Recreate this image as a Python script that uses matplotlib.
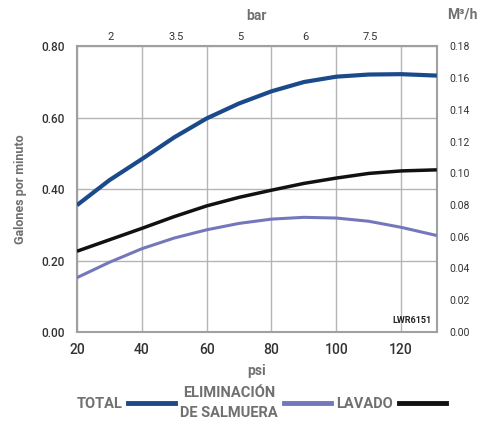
import matplotlib
matplotlib.use("Agg")
from matplotlib import pyplot as plt
from matplotlib.lines import Line2D

plt.rcParams['font.family'] = ['Roboto', 'DejaVu Sans']

# flow curves (psi -> galones por minuto)
psi = [20, 30, 40, 50, 60, 70, 80, 90, 100, 110, 120, 131]
total = [0.355, 0.425, 0.484, 0.545, 0.598, 0.640, 0.674, 0.700,
         0.715, 0.721, 0.722, 0.718]
eliminacion = [0.152, 0.195, 0.233, 0.263, 0.286, 0.304, 0.316, 0.321,
               0.319, 0.310, 0.293, 0.270]
lavado = [0.226, 0.258, 0.290, 0.323, 0.353, 0.377, 0.397, 0.416,
          0.431, 0.444, 0.451, 0.454]

psi_ticks = [20, 40, 60, 80, 100, 120]
bar_pos = [30.5, 50.5, 70.5, 90.5, 110.5]
bar_labels = ["2", "3.5", "5", "6", "7.5"]
gpm_ticks = [0.0, 0.2, 0.4, 0.6, 0.8]
m3h_ticks = [0.0, 0.02, 0.04, 0.06, 0.08, 0.10, 0.12, 0.14, 0.16, 0.18]

c_total = '#1b4a8b'
c_elim = '#7477bb'
c_lav = '#111111'
c_grid = '#b5b5b5'
c_label = '#707070'
c_tick = '#333333'

fig = plt.figure(figsize=(4.87, 4.25), dpi=100)
ax = fig.add_axes([0.158, 0.219, 0.739, 0.672])

ax.plot(psi, total, color=c_total, lw=3.0, solid_capstyle='butt', zorder=3)
ax.plot(psi, lavado, color=c_lav, lw=2.5, solid_capstyle='butt', zorder=3)
ax.plot(psi, eliminacion, color=c_elim, lw=2.2, solid_capstyle='butt',
        zorder=3)

ax.set_xlim(20, 131)
ax.set_ylim(0, 0.8)
ax.set_xticks(psi_ticks)
ax.set_yticks(gpm_ticks)
ax.set_yticklabels([f"{v:.2f}" for v in gpm_ticks])
ax.grid(True, color=c_grid, lw=1.0)
ax.tick_params(length=0, colors=c_tick)
for t in ax.get_xticklabels():
    t.set_fontsize(10)
    t.set_fontweight('medium')
for t in ax.get_yticklabels():
    t.set_fontsize(8.5)
    t.set_fontweight('medium')
ax.tick_params(axis='x', pad=8)
ax.tick_params(axis='y', pad=9)
for s in ax.spines.values():
    s.set_color('#a0a0a0')
    s.set_linewidth(1.5)

ax.set_xlabel("psi", fontsize=10, fontweight='bold', color=c_label,
              labelpad=5)
ax.set_ylabel("Galones por minuto", fontsize=9, fontweight='bold',
              color=c_label, labelpad=10)

# top axis in bar
top = ax.twiny()
top.set_xlim(ax.get_xlim())
top.set_xticks(bar_pos)
top.set_xticklabels(bar_labels, fontsize=8, color=c_tick)
top.tick_params(length=0, pad=3)
top.set_xlabel("bar", fontsize=10, fontweight='bold', color=c_label,
               labelpad=9)
for s in top.spines.values():
    s.set_visible(False)

# right axis in m3/h
right = ax.twinx()
right.set_ylim(0, 0.18)
right.set_yticks(m3h_ticks)
right.set_yticklabels([f"{v:.2f}" for v in m3h_ticks], fontsize=7.5,
                      color=c_tick)
right.tick_params(length=0, pad=9)
for s in right.spines.values():
    s.set_visible(False)
fig.text(0.95, 0.967, "M³/h", fontsize=10, fontweight='bold',
         color=c_label, ha='center', va='center')

ax.text(0.985, 0.025, "LWR6151", transform=ax.transAxes, fontsize=6.5,
        fontweight='bold', color='#222222', ha='right', va='bottom')

handles = [Line2D([], [], color=c_total, lw=3.5),
           Line2D([], [], color=c_elim, lw=3.5),
           Line2D([], [], color=c_lav, lw=3.5)]
labels = ["TOTAL", "ELIMINACIÓN\nDE SALMUERA", "LAVADO"]
leg = fig.legend(handles, labels, loc='center', ncol=3,
                 bbox_to_anchor=(0.536, 0.052), frameon=False,
                 markerfirst=False, handlelength=3.2, handletextpad=0.4,
                 columnspacing=0.4, borderpad=0.2,
                 prop={'size': 10.5, 'weight': 'bold'})
for t in leg.get_texts():
    t.set_color(c_label)
    t.set_ha('center')
    t.set_linespacing(1.5)

fig.savefig("out.png", dpi=100)
